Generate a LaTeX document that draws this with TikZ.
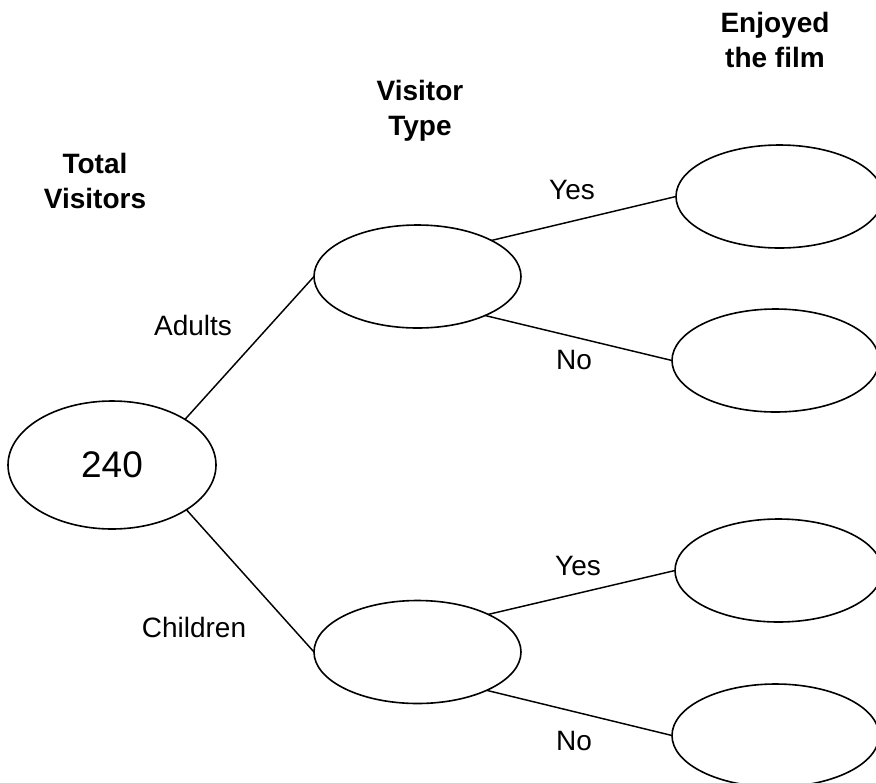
\documentclass[tikz,border=0pt]{standalone}
\usepackage{fontspec}
\setmainfont{Liberation Sans}
\usetikzlibrary{shapes.geometric}
\begin{document}
\begin{tikzpicture}[x=0.75pt,y=-0.75pt,
  oval/.style={ellipse,draw,line width=1.2pt,inner sep=0pt,outer sep=0pt,minimum width=155.25pt,minimum height=77.25pt},
  link/.style={line width=1.1pt},
  lab/.style={font=\fontsize{21}{26}\selectfont,inner sep=0pt},
  head/.style={font=\fontsize{21}{26.25}\selectfont\bfseries,align=center,inner sep=0pt,anchor=north}]
\clip (0,0) rectangle (876,783);
\useasboundingbox (0,0) rectangle (876,783);
% headers
\node[head] (h1) at (95,153) {Total\\Visitors};
\node[head] (h2) at (420,80) {Visitor\\Type};
\node[head] (h3) at (775,12) {Enjoyed\\the film};
% ellipses
\node[oval,minimum width=156pt,minimum height=96pt,font=\fontsize{27.75}{32}\selectfont] (root) at (112,465) {240};
\node[oval] (adults) at (417.5,276.5) {};
\node[oval] (children) at (417.5,652) {};
\node[oval] (y1) at (779.5,196.5) {};
\node[oval] (n1) at (775.5,360.5) {};
\node[oval] (y2) at (778.5,570.5) {};
\node[oval] (n2) at (775.5,735.5) {};
% connectors
\draw[link] (root.32) -- (adults.west);
\draw[link] (root.-31) -- (children.west);
\draw[link] (adults.26) -- (y1.west);
\draw[link] (adults.-30) -- (n1.west);
\draw[link] (children.28) -- (y2.west);
\draw[link] (children.-29) -- (n2.west);
% branch labels
\node[lab] (la) at (193,325) {Adults};
\node[lab] (lc) at (194,627) {Children};
\node[lab] (ly1) at (572,190) {Yes};
\node[lab] (ln1) at (574,360) {No};
\node[lab] (ly2) at (578,566) {Yes};
\node[lab] (ln2) at (574,741) {No};
\end{tikzpicture}
\end{document}
